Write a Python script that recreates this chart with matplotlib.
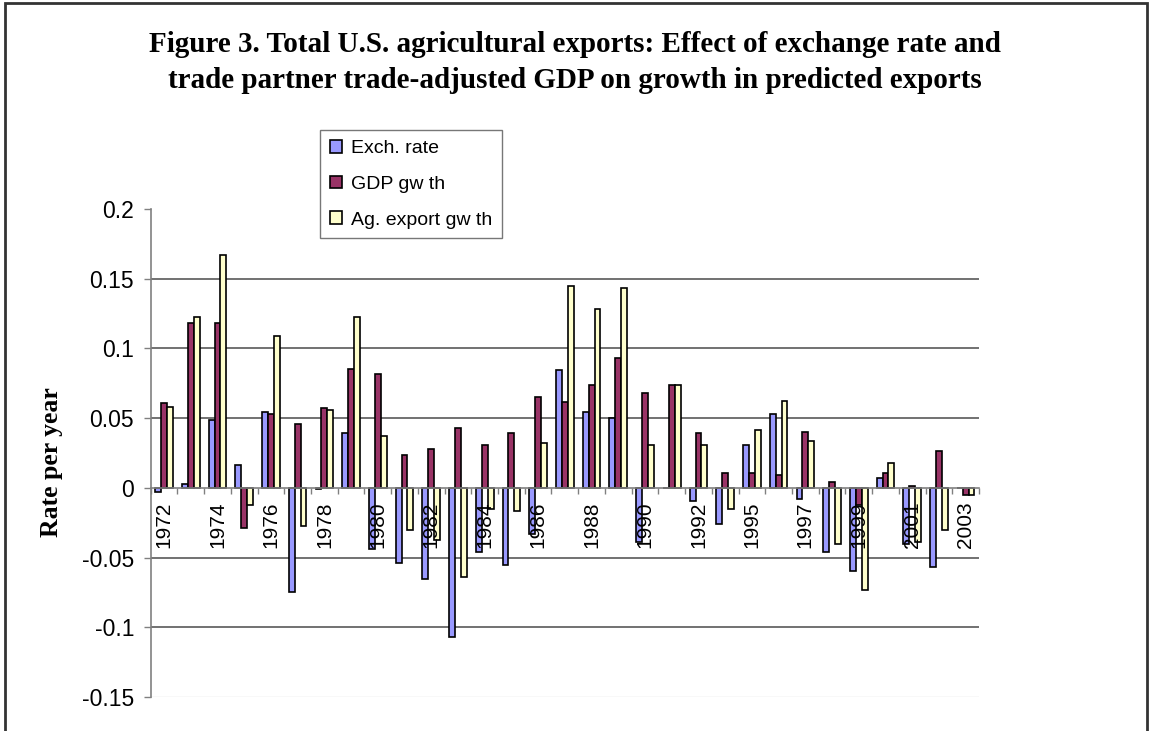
import numpy as np
import matplotlib
matplotlib.use('Agg')
import matplotlib.pyplot as plt
from matplotlib.patches import Rectangle, Patch
from matplotlib.ticker import FixedLocator

plt.rcParams['axes.unicode_minus'] = False
plt.rcParams['font.family'] = ['Liberation Sans', 'DejaVu Sans']

# values
years = [1972, 1973, 1974, 1975, 1976, 1977, 1978, 1979, 1980, 1981, 1982,
         1983, 1984, 1985, 1986, 1987, 1988, 1989, 1990, 1991, 1992, 1993,
         1995, 1996, 1997, 1998, 1999, 2000, 2001, 2002, 2003]
exch = [-0.003, 0.003, 0.049, 0.0165, 0.0545, -0.075, -0.001, 0.039, -0.044,
        -0.054, -0.0654, -0.107, -0.0458, -0.0554, -0.0334, 0.0847, 0.0545,
        0.0499, -0.0387, 0.0, -0.0094, -0.026, 0.0305, 0.0528, -0.0077,
        -0.0458, -0.0596, 0.0068, -0.040, -0.0569, 0.0]
gdp = [0.061, 0.118, 0.118, -0.029, 0.053, 0.0458, 0.057, 0.085, 0.0818,
       0.0235, 0.0278, 0.0429, 0.0305, 0.039, 0.065, 0.0613, 0.0738, 0.0932,
       0.068, 0.0738, 0.039, 0.0109, 0.0109, 0.0092, 0.0404, 0.0039, -0.012,
       0.0109, 0.0012, 0.0266, -0.0053]
ag = [0.058, 0.1225, 0.167, -0.012, 0.109, -0.0276, 0.0557, 0.1225, 0.0373,
      -0.0305, -0.0373, -0.0639, -0.0155, -0.0165, 0.032, 0.1448, 0.128,
      0.1436, 0.0305, 0.0738, 0.0305, -0.0153, 0.0416, 0.0625, 0.0334,
      -0.040, -0.0736, 0.0179, -0.0387, -0.0305, -0.0053]
series_names = ['Exch. rate', 'GDP gw th', 'Ag. export gw th']
colors = ['#9999FF', '#993366', '#FFFFCC']
yticks = [-0.15, -0.1, -0.05, 0, 0.05, 0.1, 0.15, 0.2]

W, H = 1151, 731
fig = plt.figure(figsize=(W / 100, H / 100), dpi=100)
ax = fig.add_axes([150.7 / W, 1 - 697 / H, (979 - 150.7) / W, (697 - 209) / H])

x = np.arange(len(years))
w = 0.22
for off, vals, c, name in zip([-w, 0, w], [exch, gdp, ag], colors, series_names):
    ax.bar(x + off, vals, w, color=c, edgecolor='black', linewidth=1.2,
           zorder=1, label=name)

ax.set_xlim(-0.5, len(years) - 0.5)
ax.set_ylim(-0.15, 0.2)

# gridlines behind the bars
for v in [0.15, 0.1, 0.05, -0.05, -0.1]:
    ax.axhline(v, color='#666666', lw=1.3, zorder=0)
ax.axhline(-0.15, color='#dddddd', lw=1, zorder=0)

for s in ['top', 'right']:
    ax.spines[s].set_visible(False)
ax.spines['bottom'].set_position(('data', 0))
ax.spines['bottom'].set_color('#808080')
ax.spines['left'].set_color('#808080')
ax.spines['bottom'].set_linewidth(1.2)
ax.spines['left'].set_linewidth(1.2)

ax.set_yticks(yticks)
ax.set_yticklabels(['%g' % t for t in yticks])
ax.tick_params(axis='y', direction='out', length=5, width=1, color='#808080',
               labelsize=16.5, pad=7)

ax.set_xticks(x)
ax.set_xticklabels([str(y) if i % 2 == 0 else '' for i, y in enumerate(years)])
ax.xaxis.set_minor_locator(FixedLocator(np.arange(-0.5, len(years), 1.0)))
ax.tick_params(axis='x', which='major', length=0, pad=10, labelsize=15,
               labelrotation=90)
ax.tick_params(axis='x', which='minor', direction='out', length=4, width=1,
               color='#808080')

# titles
title_kw = dict(ha='center', va='center', family=['Liberation Serif'],
                weight='bold', fontsize=21)
fig.text(575 / W, 1 - 45 / H,
         'Figure 3. Total U.S. agricultural exports: Effect of exchange rate and',
         **title_kw)
fig.text(575 / W, 1 - 80 / H,
         'trade partner trade-adjusted GDP on growth in predicted exports',
         **title_kw)
fig.text(52 / W, 1 - 462 / H, 'Rate per year', rotation=90, ha='center',
         va='center', family=['Liberation Serif'], weight='bold', fontsize=18.5)

handles = [Patch(facecolor=c, edgecolor='black', linewidth=1.2) for c in colors]
leg = fig.legend(handles, series_names, loc='upper left',
                 bbox_to_anchor=(320 / W, 1 - 130 / H), frameon=True,
                 fancybox=False, edgecolor='#555555', borderaxespad=0,
                 fontsize=14, handlelength=0.65, handleheight=0.65,
                 handletextpad=0.45, labelspacing=0.95, borderpad=0.5)
leg.get_frame().set_linewidth(1.0)

# outer chart border
fig.add_artist(Rectangle((5 / W, -0.05), (1147 - 5) / W, 1.05 - 3 / H,
                         transform=fig.transFigure, fill=False,
                         edgecolor='#333333', linewidth=2))

fig.savefig('out.png', dpi=100)
